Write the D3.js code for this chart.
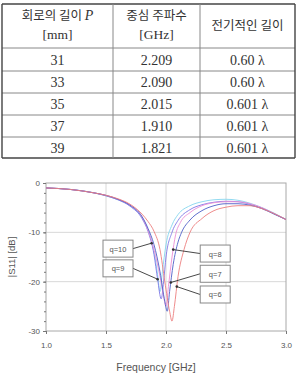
<!DOCTYPE html>
<html>
<head>
<meta charset="utf-8">
<script src="https://cdn.jsdelivr.net/npm/d3@7"></script>
<style>
  body { margin: 0; background: #fff; }
  svg { display: block; }
</style>
</head>
<body>
<svg id="chart" width="299" height="374"></svg>
<script>
// table data
const headers = [["회로의 길이 P", "[mm]"], ["중심 주파수", "[GHz]"], ["전기적인 길이"]];
const lengths = ["31", "33", "35", "37", "39"];
const centerFreqs = ["2.209", "2.090", "2.015", "1.910", "1.821"];
const elecLengths = ["0.60 λ", "0.60 λ", "0.601 λ", "0.601 λ", "0.601 λ"];

// S11 curves
const seriesNames = ["q=10", "q=9", "q=8", "q=7", "q=6"];
const seriesColors = ["#86d6ee", "#7f78e6", "#ec8fd6", "#4f5fc8", "#ec7f7f"];
const freqQ10 = [1.0, 1.2, 1.4, 1.5, 1.6, 1.7, 1.8, 1.85, 1.9, 1.93, 1.95, 1.97, 2.0, 2.05, 2.1, 2.2, 2.3, 2.4, 2.5, 2.6, 2.7, 2.8, 2.9, 3.0];
const s11Q10  = [-1.0, -1.3, -2.0, -2.6, -3.4, -4.6, -7.0, -9.5, -14, -18.5, -22, -18, -12.5, -8.5, -6.4, -4.6, -3.8, -3.4, -3.3, -3.5, -4.1, -5.0, -6.1, -7.4];
const freqQ9 = [1.0, 1.2, 1.4, 1.5, 1.6, 1.7, 1.8, 1.85, 1.9, 1.93, 1.96, 1.98, 2.0, 2.05, 2.1, 2.2, 2.3, 2.4, 2.5, 2.6, 2.7, 2.8, 2.9, 3.0];
const s11Q9  = [-1.0, -1.3, -2.0, -2.6, -3.4, -4.7, -7.2, -9.8, -14.5, -19.5, -23.5, -20, -15, -10, -7.6, -5.4, -4.4, -3.9, -3.7, -3.8, -4.3, -5.1, -6.2, -7.4];
const freqQ8 = [1.0, 1.2, 1.4, 1.5, 1.6, 1.7, 1.8, 1.85, 1.9, 1.95, 1.98, 2.0, 2.02, 2.05, 2.08, 2.12, 2.2, 2.3, 2.4, 2.5, 2.6, 2.7, 2.8, 2.9, 3.0];
const s11Q8  = [-1.0, -1.3, -2.0, -2.5, -3.3, -4.5, -6.9, -9.6, -13.5, -19, -23, -25, -21, -15, -10.5, -8, -6, -4.6, -4.0, -3.8, -3.8, -4.2, -5.0, -6.2, -7.4];
const freqQ7 = [1.0, 1.2, 1.4, 1.5, 1.6, 1.7, 1.8, 1.85, 1.9, 1.95, 1.99, 2.01, 2.03, 2.06, 2.1, 2.13, 2.2, 2.3, 2.4, 2.5, 2.6, 2.7, 2.8, 2.9, 3.0];
const s11Q7  = [-1.0, -1.3, -2.0, -2.5, -3.3, -4.5, -6.8, -9.2, -12.5, -18, -24, -26, -22, -16.5, -12, -10, -7.5, -5.6, -4.6, -4.2, -4.2, -4.5, -5.2, -6.3, -7.4];
const freqQ6 = [1.0, 1.2, 1.4, 1.5, 1.6, 1.7, 1.8, 1.85, 1.9, 1.95, 1.99, 2.03, 2.05, 2.07, 2.1, 2.15, 2.2, 2.3, 2.4, 2.5, 2.6, 2.7, 2.8, 2.9, 3.0];
const s11Q6  = [-1.0, -1.3, -2.0, -2.5, -3.2, -4.3, -6.3, -7.8, -9.8, -13.5, -20, -26, -28, -25, -19, -13.5, -10, -7.2, -5.6, -4.9, -4.6, -4.6, -5.2, -6.2, -7.4];
const xTicks = [1.0, 1.5, 2.0, 2.5, 3.0];
const yTicks = [0, -10, -20, -30];

// annotation layout (data units): box centre and the frequency the arrow points at
const labelBoxes = [
  { name: "q=10", bx: 1.6, by: -13.3, f: 1.88 },
  { name: "q=9", bx: 1.6, by: -17.3, f: 1.93 },
  { name: "q=8", bx: 2.41, by: -14.3, f: 2.06 },
  { name: "q=7", bx: 2.41, by: -18.4, f: 2.04 },
  { name: "q=6", bx: 2.41, by: -22.6, f: 2.09 }
];

const series = [
  [freqQ10, s11Q10], [freqQ9, s11Q9], [freqQ8, s11Q8], [freqQ7, s11Q7], [freqQ6, s11Q6]
].map(([fs, vs], i) => ({
  name: seriesNames[i],
  color: seriesColors[i],
  points: fs.map((f, j) => ({ f, v: vs[j] }))
}));

const svg = d3.select("#chart");
const serif = "'Liberation Serif', 'DejaVu Serif', serif";
const kr = "'Noto Sans CJK KR', sans-serif";

// ---------- table ----------
const colEdges = [2, 113, 200, 295];
const rowEdges = [4, 48, 71, 93, 115, 137, 158];
const table = svg.append("g").attr("class", "table");

table.selectAll("line.h")
  .data(rowEdges)
  .join("line")
  .attr("x1", colEdges[0]).attr("x2", colEdges[3])
  .attr("y1", d => d).attr("y2", d => d)
  .attr("stroke", (d, i) => (i === 0 || i === rowEdges.length - 1) ? "#444" : "#888")
  .attr("stroke-width", (d, i) => (i === 0 || i === rowEdges.length - 1) ? 1.4 : 1);

table.selectAll("line.v")
  .data(colEdges)
  .join("line")
  .attr("x1", d => d).attr("x2", d => d)
  .attr("y1", rowEdges[0]).attr("y2", rowEdges[rowEdges.length - 1])
  .attr("stroke", (d, i) => (i === 0 || i === colEdges.length - 1) ? "#444" : "#888")
  .attr("stroke-width", (d, i) => (i === 0 || i === colEdges.length - 1) ? 1.4 : 1);

const colMid = i => (colEdges[i] + colEdges[i + 1]) / 2;

// header
headers.forEach((lines, i) => {
  const t = table.append("text")
    .attr("x", colMid(i))
    .attr("text-anchor", "middle")
    .attr("font-size", 12.5)
    .attr("fill", "#333");
  if (lines.length === 1) {
    t.attr("y", 30).attr("font-family", kr).text(lines[0]);
  } else {
    const first = t.append("tspan").attr("x", colMid(i)).attr("y", 20).attr("font-family", kr);
    if (lines[0].endsWith(" P")) {
      first.text(lines[0].slice(0, -1));
      t.append("tspan").attr("font-family", serif).attr("font-style", "italic").attr("font-size", 14).text("P");
    } else {
      first.text(lines[0]);
    }
    t.append("tspan").attr("x", colMid(i)).attr("y", 39).attr("font-family", serif).attr("font-size", 13.5).text(lines[1]);
  }
});

const rows = lengths.map((l, i) => [l, centerFreqs[i], elecLengths[i]]);
rows.forEach((row, r) => {
  table.selectAll(null)
    .data(row)
    .join("text")
    .attr("x", (d, i) => colMid(i))
    .attr("y", (rowEdges[r + 1] + rowEdges[r + 2]) / 2 + 5)
    .attr("text-anchor", "middle")
    .attr("font-family", serif)
    .attr("font-size", 14)
    .attr("fill", "#333")
    .text(d => d);
});

// ---------- S11 plot ----------
const x = d3.scaleLinear().domain([1, 3]).range([46, 286]);
const y = d3.scaleLinear().domain([-30, 0]).range([331, 183]);
const plot = svg.append("g").attr("class", "plot");
const sans = "'Liberation Sans', Arial, sans-serif";

plot.append("g")
  .selectAll("line")
  .data(xTicks.slice(1, -1))
  .join("line")
  .attr("x1", d => x(d)).attr("x2", d => x(d))
  .attr("y1", y(0)).attr("y2", y(-30))
  .attr("stroke", "#d8d8d8");

plot.append("g")
  .selectAll("line")
  .data(yTicks.slice(1, -1))
  .join("line")
  .attr("x1", x(1)).attr("x2", x(3))
  .attr("y1", d => y(d)).attr("y2", d => y(d))
  .attr("stroke", "#d8d8d8");

plot.append("rect")
  .attr("x", x(1)).attr("y", y(0))
  .attr("width", x(3) - x(1)).attr("height", y(-30) - y(0))
  .attr("fill", "none").attr("stroke", "#a8a8a8");

const yAxis = plot.append("g")
  .attr("transform", `translate(${x(1)},0)`)
  .call(d3.axisLeft(y).tickValues(yTicks).tickSize(3).tickPadding(3).tickFormat(d => String(d)));
const yMinor = plot.append("g")
  .attr("transform", `translate(${x(1)},0)`)
  .call(d3.axisLeft(y).tickValues(d3.range(-30, 1, 2)).tickSize(2).tickFormat(""));
const xAxis = plot.append("g")
  .attr("transform", `translate(0,${y(-30)})`)
  .call(d3.axisBottom(x).tickValues(xTicks).tickSize(3).tickPadding(8).tickFormat(d3.format(".1f")));

[yAxis, yMinor, xAxis].forEach(g => {
  g.select(".domain").remove();
  g.selectAll("line").attr("stroke", "#777");
  g.selectAll("text").attr("font-family", sans).attr("font-size", 8).attr("fill", "#555");
});

const line = d3.line()
  .x(d => x(d.f))
  .y(d => y(d.v))
  .curve(d3.curveMonotoneX);

plot.append("g")
  .selectAll("path")
  .data(series)
  .join("path")
  .attr("d", d => line(d.points))
  .attr("fill", "none")
  .attr("stroke", d => d.color)
  .attr("stroke-width", 1)
  .attr("opacity", 0.9);

// annotations
const valueAt = (s, f) => {
  const pts = s.points;
  const i = d3.bisector(p => p.f).left(pts, f);
  if (i <= 0) return pts[0].v;
  const a = pts[i - 1], b = pts[i];
  return a.v + (b.v - a.v) * (f - a.f) / (b.f - a.f);
};

const boxW = 30, boxH = 17;
const ann = plot.append("g")
  .selectAll("g")
  .data(labelBoxes)
  .join("g");

ann.each(function(d) {
  const g = d3.select(this);
  const s = series.find(s => s.name === d.name);
  const cx = x(d.bx), cy = y(d.by);
  const tx = x(d.f), ty = y(valueAt(s, d.f));
  const sx = tx > cx ? cx + boxW / 2 : cx - boxW / 2;
  g.append("line")
    .attr("x1", sx).attr("y1", cy)
    .attr("x2", tx).attr("y2", ty)
    .attr("stroke", "#333").attr("stroke-width", 0.9);
  g.append("circle").attr("cx", tx).attr("cy", ty).attr("r", 1.3).attr("fill", "#333");
  g.append("rect")
    .attr("x", cx - boxW / 2).attr("y", cy - boxH / 2)
    .attr("width", boxW).attr("height", boxH)
    .attr("fill", "#fff").attr("stroke", "#888");
  g.append("text")
    .attr("x", cx).attr("y", cy + 3)
    .attr("text-anchor", "middle")
    .attr("font-family", sans).attr("font-size", 7.5).attr("fill", "#555")
    .text(d.name);
});

plot.append("text")
  .attr("x", (x(1) + x(3)) / 2 - 10).attr("y", 371)
  .attr("text-anchor", "middle")
  .attr("font-family", sans).attr("font-size", 10.5).attr("fill", "#555")
  .text("Frequency [GHz]");

plot.append("text")
  .attr("transform", `translate(15,${(y(0) + y(-30)) / 2}) rotate(-90)`)
  .attr("text-anchor", "middle")
  .attr("font-family", sans).attr("font-size", 9.5).attr("fill", "#555")
  .text("|S11|  [dB]");
</script>
</body>
</html>
